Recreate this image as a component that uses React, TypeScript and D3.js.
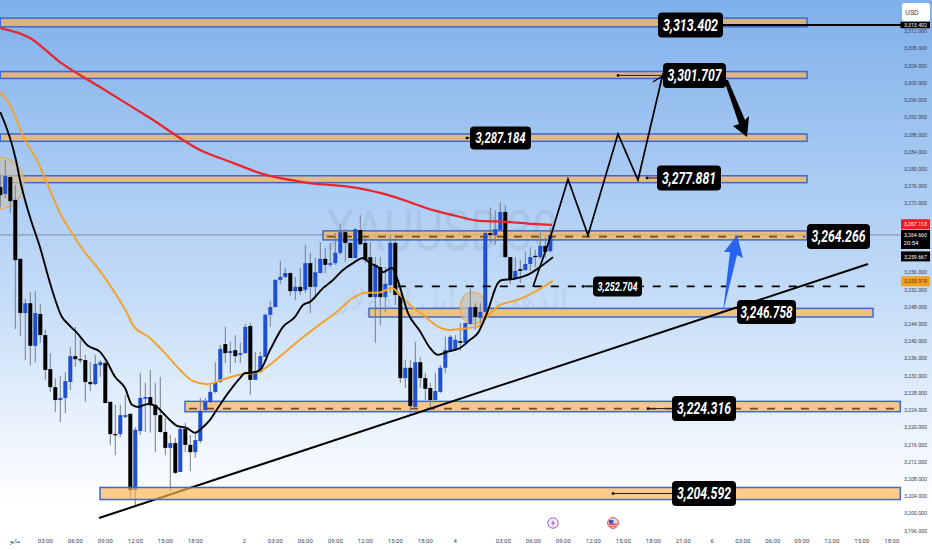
import React from 'react';
import * as d3 from 'd3';

const opens = [3275.8,3274.2,3278.1,3272.8,3259.1,3246.5,3248.8,3238.9,3246.3,3241.4,3233.5,3229.3,3226.3,3226.8,3230.5,3236.5,3235.8,3235.6,3230.5,3230.0,3234.4,3234.9,3225.9,3218.4,3218.4,3222.4,3223.1,3205.4,3219.1,3226.6,3227.0,3225.2,3222.8,3218.9,3215.2,3216.3,3209.6,3219.6,3215.9,3214.2,3216.8,3224.0,3225.9,3228.2,3230.5,3239.3,3237.2,3237.9,3236.8,3237.2,3243.5,3231.0,3232.8,3236.3,3246.1,3247.9,3254.2,3254.9,3255.8,3251.6,3252.6,3251.9,3258.1,3252.6,3255.8,3259.1,3257.7,3258.1,3260.5,3265.3,3262.8,3259.3,3265.8,3262.8,3259.5,3250.2,3257.2,3250.2,3253.0,3262.8,3250.9,3231.4,3233.8,3224.7,3235.1,3231.4,3229.1,3226.3,3228.2,3233.8,3237.9,3237.9,3240.0,3239.6,3244.0,3247.9,3245.4,3246.8,3265.1,3264.6,3265.8,3270.0,3259.5,3254.4,3256.7,3256.5,3257.9,3259.8,3259.5,3262.1,3260.9];
const highs = [3278.6,3282.0,3278.6,3276.2,3259.1,3249.8,3251.4,3251.6,3248.6,3242.6,3237.2,3231.4,3231.9,3232.8,3238.6,3243.3,3240.3,3236.8,3235.1,3236.8,3235.6,3235.6,3225.9,3225.2,3225.2,3227.5,3223.1,3220.0,3232.6,3230.3,3233.3,3230.3,3231.7,3222.1,3218.2,3217.5,3220.3,3221.0,3218.2,3218.7,3226.8,3226.8,3229.8,3235.1,3239.1,3243.3,3239.8,3241.4,3239.6,3244.0,3244.2,3237.5,3237.5,3246.5,3249.3,3254.4,3258.6,3257.0,3256.0,3254.9,3257.0,3262.3,3260.5,3259.3,3263.0,3261.6,3262.8,3265.1,3267.2,3266.0,3263.0,3266.3,3269.3,3264.2,3263.0,3259.5,3259.5,3257.2,3264.6,3264.6,3250.9,3235.6,3235.6,3239.8,3236.3,3232.6,3230.3,3232.6,3234.4,3241.0,3241.4,3241.4,3244.2,3244.2,3252.3,3248.8,3248.8,3265.8,3271.1,3270.4,3272.3,3271.6,3259.5,3259.5,3258.8,3260.9,3261.8,3261.2,3265.3,3264.2,3266.3];
const lows = [3271.1,3273.2,3269.7,3242.8,3241.2,3235.6,3234.4,3235.1,3239.6,3231.0,3228.2,3223.5,3221.2,3223.3,3228.6,3234.0,3234.9,3225.9,3228.4,3229.8,3231.7,3225.6,3215.9,3213.5,3217.7,3222.1,3203.6,3201.9,3218.2,3218.9,3218.7,3214.2,3218.7,3213.5,3205.0,3209.1,3209.6,3214.2,3209.8,3212.9,3216.3,3223.5,3225.6,3227.9,3230.3,3234.9,3232.6,3234.9,3234.9,3237.0,3227.5,3231.0,3232.6,3236.3,3243.3,3247.9,3253.3,3254.6,3250.5,3249.5,3250.7,3251.2,3246.5,3250.0,3255.8,3255.8,3257.2,3257.7,3260.0,3258.4,3259.3,3259.3,3262.3,3258.1,3250.2,3239.6,3243.7,3246.8,3251.2,3248.4,3230.3,3229.1,3222.8,3224.5,3229.1,3226.3,3224.7,3226.3,3227.9,3232.6,3237.7,3237.7,3237.7,3239.6,3243.7,3242.6,3243.0,3246.8,3262.8,3262.3,3265.6,3259.3,3253.3,3254.2,3253.5,3256.3,3256.3,3257.2,3259.1,3259.3,3260.5];
const closes = [3273.9,3278.3,3272.5,3258.8,3246.5,3248.8,3238.9,3246.5,3241.4,3233.3,3229.3,3226.3,3226.8,3230.7,3236.5,3235.8,3235.6,3230.5,3230.0,3234.7,3235.1,3225.6,3218.4,3218.2,3222.8,3222.8,3205.4,3219.4,3226.8,3227.0,3225.2,3222.8,3218.9,3215.2,3216.3,3209.4,3219.6,3215.9,3214.2,3217.0,3223.8,3225.9,3228.2,3230.5,3238.2,3237.2,3237.7,3236.5,3237.2,3243.3,3231.0,3233.0,3236.5,3246.1,3247.9,3254.2,3254.9,3255.8,3251.6,3252.6,3251.6,3258.1,3252.6,3256.0,3259.1,3257.7,3258.1,3260.5,3265.3,3262.8,3259.3,3266.0,3262.5,3258.8,3250.2,3257.7,3250.2,3253.3,3262.8,3250.7,3231.4,3233.8,3224.9,3235.1,3231.4,3228.9,3226.3,3228.4,3233.8,3237.9,3241.0,3240.3,3239.6,3244.2,3247.9,3245.6,3246.8,3265.1,3264.6,3266.0,3270.0,3259.5,3254.4,3256.3,3256.3,3257.9,3259.5,3259.5,3262.1,3260.7,3264.6];

const fastBars = [0,3.14,3.94,5.94,7.94,9.94,12.34,13.34,15.34,17.54,19.94,21.14,22.94,24.94,26.34,27.54,29.54,31.34,32.54,34.34,35.34,37.34,38.94,40.34,41.94,43.54,45.54,47.94,48.94,49.94,51.94,53.94,56.54,58.94,60.54,61.94,64.54,66.54,68.54,70.54,72.54,73.94,75.54,76.54,78.34,79.34,81.54,83.94,85.94,87.54,89.34,91.94,93.94,95.54,97.34,99.54,100.34,102.54,105.34,107.94,110.54];
const fastPrices = [3293.2,3282.0,3277.4,3268.8,3261.8,3253.5,3245.6,3244.2,3241.9,3238.9,3237.5,3235.6,3231.7,3229.1,3225.2,3224.7,3225.4,3224.7,3223.3,3221.2,3220.3,3219.8,3218.7,3219.8,3221.7,3224.5,3227.9,3231.4,3232.6,3232.6,3233.3,3237.9,3243.3,3245.6,3248.4,3249.1,3252.3,3254.2,3256.5,3258.1,3259.3,3258.1,3257.2,3256.0,3257.0,3254.6,3246.5,3242.3,3238.4,3236.8,3237.5,3238.4,3240.3,3241.9,3246.5,3253.5,3254.2,3254.4,3255.3,3257.2,3259.5];
const slowBars = [0,1.94,4.94,7.34,9.94,11.94,13.94,16.54,19.94,22.94,25.34,26.54,29.94,32.94,35.94,38.54,41.34,44.34,47.54,51.54,54.34,56.54,60.34,64.54,67.34,70.54,72.94,75.54,78.34,79.94,81.94,84.54,87.34,89.94,93.34,95.34,97.34,99.94,103.34,106.54,110.54];
const slowPrices = [3297.8,3294.8,3286.7,3282.0,3275.1,3269.7,3265.8,3261.2,3256.3,3251.2,3246.5,3243.7,3240.7,3237.2,3233.3,3230.7,3230.0,3231.0,3232.1,3232.8,3234.9,3237.0,3240.7,3244.4,3246.8,3250.0,3251.2,3251.2,3252.3,3250.7,3248.4,3246.1,3243.5,3242.6,3243.0,3243.3,3245.6,3248.4,3249.5,3251.2,3254.0];
const longBars = [0,5.94,11.94,19.94,29.94,39.94,46.54,51.94,61.94,69.94,75.94,80.54,86.54,91.34,95.94,101.34,106.54,110.34];
const longPrices = [3312.7,3310.4,3304.8,3299.0,3291.8,3284.4,3281.4,3279.0,3276.7,3275.8,3274.4,3272.8,3270.4,3269.0,3267.9,3267.7,3267.2,3267.0];
const pathBars = [106.54,110.14,113.54,117.54,123.54,127.54,132.54];
const pathPrices = [3252.6,3264.6,3277.6,3264.6,3288.1,3277.4,3302.2];
const trendBars = [19.74,173.54];
const trendPrices = [3198.9,3257.9];

const zoneLevels = [3313.402,3301.707,3287.184,3277.881,3264.266,3246.758,3224.316,3204.592];
const zoneHighs = [3315.0,3302.6,3288.1,3278.4,3265.6,3247.6,3226.0,3206.0];
const zoneLows = [3313.0,3301.0,3286.4,3276.8,3263.5,3245.6,3223.6,3203.2];
const zoneStarts = [0,0,0,0,64.54,73.74,36.94,19.94];
const zoneEnds = [161.34,161.34,161.34,161.34,161.34,174.54,180,180];
const dashedZones = [3264.266,3224.316];
const supportLevel = 3252.704;
const currentPrice = 3264.66;
const yTicks = d3.range(3196, 3313, 4).filter((t) => t !== 3264 && t !== 3260);
const timeLabels = ['مايو','03:00','06:00','09:00','12:00','15:00','18:00','2','03:00','06:00','09:00','12:00','15:00','18:00','4','03:00','06:00','09:00','12:00','15:00','18:00','21:00','6','03:00','06:00','09:00','12:00','15:00','18:00'];
const timeBars = [2.94,9,15,21,27,33,39,48.8,55,61,67,73,79,85,91,100.6,106.6,112.6,118.6,124.6,130.6,136.6,142.4,148.5,154.5,160.3,166.3,172.3,178.3];

const W = 932, H = 550;
const x = d3.scaleLinear().domain([0, 110]).range([0.3, 550.3]);
const y = d3.scaleLinear().domain([3308, 3200]).range([48.3, 513.3]);
const fmt = d3.format(',.3f');
const BLUE = '#1f4fd1';
const BLACK = '#000';
const FONT = 'Roboto, "Noto Sans", sans-serif';

const curve = (bars: number[], prices: number[]) =>
  d3.line<number>().x((b) => x(b)).y((_, i) => y(prices[i])).curve(d3.curveMonotoneX)(bars) as string;
const straight = (bars: number[], prices: number[]) =>
  d3.line<number>().x((b) => x(b)).y((_, i) => y(prices[i]))(bars) as string;

const Zone = ({ i }: { i: number }) => (
  <g>
    <rect x={x(zoneStarts[i])} y={y(zoneHighs[i])} width={x(zoneEnds[i]) - x(zoneStarts[i])}
      height={y(zoneLows[i]) - y(zoneHighs[i])} fill="#ffb450" fillOpacity={0.68} stroke="#3e68cc" strokeWidth={1.5} />
    {dashedZones.includes(zoneLevels[i]) && (
      <line x1={x(zoneStarts[i]) + 4} x2={x(zoneEnds[i]) - 2} y1={y(zoneLevels[i])} y2={y(zoneLevels[i])}
        stroke="#6e4f1c" strokeWidth={1.6} strokeDasharray="8 9" />
    )}
  </g>
);

const labelBoxes = [
  { v: 3313.402, x0: 658, w: 65, h: 25, fs: 16.5, tw: 55, dot: null },
  { v: 3301.707, x0: 663, w: 63, h: 25, fs: 16.5, tw: 54, dot: 618 },
  { v: 3287.184, x0: 470, w: 61, h: 23, fs: 15, tw: 50, dot: 467 },
  { v: 3277.881, x0: 657, w: 64, h: 25, fs: 16.5, tw: 54, dot: 647 },
  { v: 3264.266, x0: 807, w: 63, h: 25, fs: 16.5, tw: 54, dot: null },
  { v: 3252.704, x0: 593, w: 49, h: 20, fs: 12.5, tw: 40, dot: 583 },
  { v: 3246.758, x0: 737, w: 59, h: 24, fs: 16, tw: 52, dot: null },
  { v: 3224.316, x0: 672, w: 64, h: 25, fs: 16.5, tw: 54, dot: 648 },
  { v: 3204.592, x0: 672, w: 64, h: 25, fs: 16.5, tw: 54, dot: 613 },
];

const Candles = () => (
  <g>
    {opens.map((o, i) => {
      const c = closes[i];
      const up = c > o;
      const top = y(Math.max(o, c));
      const bot = y(Math.min(o, c));
      return (
        <g key={i}>
          <line x1={x(i)} x2={x(i)} y1={y(highs[i])} y2={y(lows[i])} stroke="#757d8c" strokeWidth={1} />
          <rect x={x(i) - 2} y={top} width={4} height={Math.max(bot - top, 1.2)} fill={up ? BLUE : BLACK} />
        </g>
      );
    })}
  </g>
);

export default function App() {
  return (
    <svg width={W} height={H} viewBox={`0 0 ${W} ${H}`}
      style={{ position: 'fixed', left: 0, top: 0, display: 'block', fontFamily: FONT }}>
      <defs>
        <linearGradient id="bg" x1="0" y1="0" x2="0" y2="1">
          <stop offset="0" stopColor="#7fb0ea" />
          <stop offset="0.3" stopColor="#a6c9f3" />
          <stop offset="0.55" stopColor="#c6ddf8" />
          <stop offset="0.8" stopColor="#eef5fd" />
          <stop offset="0.92" stopColor="#ffffff" />
        </linearGradient>
      </defs>
      <rect width={W} height={H} fill="url(#bg)" />

      {/* watermark */}
      <text x={442} y={250} textAnchor="middle" fontSize={56} fill="#6f86a6" fillOpacity={0.16} textLength={232} lengthAdjust="spacingAndGlyphs">XAUUSD,30</text>
      <text x={452} y={309} textAnchor="middle" fontSize={28} fill="#6f86a6" fillOpacity={0.14} fontFamily="'Noto Sans', sans-serif">الذهب مقابل الدولار</text>

      {/* current price line */}
      <line x1={0} x2={901} y1={y(currentPrice)} y2={y(currentPrice)} stroke="#7e8ea6" strokeWidth={1} />

      {/* horizontal zones behind the candles */}
      {zoneLevels.map((v, i) => (v > 3230 ? <Zone key={v} i={i} /> : null))}

      <ellipse cx={-2} cy={183} rx={26} ry={26} fill="#c9c3b6" fillOpacity={0.72} stroke="#eaa94c" strokeWidth={1.2} />
      <ellipse cx={473} cy={308} rx={13} ry={16} fill="#c9c3b6" fillOpacity={0.72} stroke="#eaa94c" strokeWidth={1.2} />

      <Zone i={6} />
      <Candles />

      <line x1={x(79.5)} x2={868} y1={y(supportLevel)} y2={y(supportLevel)} stroke="#000" strokeWidth={1.6} strokeDasharray="8 9" />

      <path d={curve(longBars, longPrices)} fill="none" stroke="#e8262e" strokeWidth={2.3} />
      <path d={curve(slowBars, slowPrices)} fill="none" stroke="#f2a32f" strokeWidth={2} />
      <path d={curve(fastBars, fastPrices)} fill="none" stroke="#000" strokeWidth={1.9} />

      <path d={straight(trendBars, trendPrices)} fill="none" stroke="#000" strokeWidth={2} />
      <Zone i={7} />

      <path d={straight(pathBars, pathPrices)} fill="none" stroke="#000" strokeWidth={1.7} />
      <line x1={653} y1={82} x2={664} y2={75} stroke="#000" strokeWidth={1.3} />

      {/* level line from the top zone to the price scale */}
      <line x1={723} x2={901} y1={y(3313.402)} y2={y(3313.402)} stroke="#000" strokeWidth={2} />

      {/* forecast arrows */}
      <path d="M724,80 L728,80 L745,120 L749,116 L747,137 L733,126 L739,124 Z" fill="#000" />
      <path d="M723,312 L730,252 L724,252 L737,235 L743,258 L737,255 Z" fill="#2a63f0" />

      {/* level labels */}
      {labelBoxes.map((b) => {
        const cy = y(b.v);
        return (
          <g key={b.v}>
            {b.dot !== null && (
              <g>
                <line x1={b.dot} x2={b.x0} y1={cy} y2={cy} stroke="#222" strokeWidth={1} />
                <rect x={b.dot - 1.2} y={cy - 1.2} width={2.4} height={2.4} fill="#000" />
              </g>
            )}
            <rect x={b.x0} y={cy - b.h / 2} width={b.w} height={b.h} rx={4} fill="#000" />
            <text x={b.x0 + b.w / 2} y={cy + b.fs * 0.35} textAnchor="middle" fill="#fff" fontWeight={700}
              fontStyle="italic" fontSize={b.fs} textLength={b.tw} lengthAdjust="spacingAndGlyphs">{fmt(b.v)}</text>
          </g>
        );
      })}

      {/* price scale */}
      {yTicks.map((t) => (
        <text key={t} x={915.5} y={y(t) + 2.1} textAnchor="middle" fontSize={6} fill="#3a4250"
          textLength={23} lengthAdjust="spacingAndGlyphs">{fmt(t)}</text>
      ))}
      <rect x={902} y={3} width={28} height={18} rx={2.5} fill="#fff" />
      <text x={912} y={14.5} textAnchor="middle" fontSize={7} fill="#3a4250">USD</text>
      <rect x={900.5} y={y(3313.402) - 3.2} width={29.5} height={6.4} fill="#000" />
      <text x={915.5} y={y(3313.402) + 2.1} textAnchor="middle" fontSize={6} fill="#fff" textLength={23} lengthAdjust="spacingAndGlyphs">{fmt(3313.402)}</text>
      <rect x={901} y={y(3267.113) - 5} width={29} height={10} fill="#f01c24" />
      <text x={915.5} y={y(3267.113) + 2.1} textAnchor="middle" fontSize={6} fill="#fff" textLength={23} lengthAdjust="spacingAndGlyphs">{fmt(3267.113)}</text>
      <rect x={901} y={230} width={29} height={19} fill="#000" />
      <text x={915.5} y={237.2} textAnchor="middle" fontSize={6} fill="#fff" textLength={23} lengthAdjust="spacingAndGlyphs">{fmt(currentPrice)}</text>
      <text x={911} y={245.2} textAnchor="middle" fontSize={6} fill="#fff">20:54</text>
      <rect x={901} y={y(3259.667) - 5} width={29} height={10} fill="#000" />
      <text x={915.5} y={y(3259.667) + 2.1} textAnchor="middle" fontSize={6} fill="#fff" textLength={23} lengthAdjust="spacingAndGlyphs">{fmt(3259.667)}</text>
      <rect x={901} y={y(3253.918) - 5} width={29} height={10} rx={1.5} fill="#f5a01f" />
      <text x={915.5} y={y(3253.918) + 2.1} textAnchor="middle" fontSize={6} fill="#5a3a08" textLength={23} lengthAdjust="spacingAndGlyphs">{fmt(3253.918)}</text>

      {/* time axis */}
      {timeLabels.map((t, i) => (
        <text key={i} x={x(timeBars[i])} y={543} textAnchor="middle" fontSize={6} fill="#3a4250">{t}</text>
      ))}

      {/* event markers */}
      <circle cx={553} cy={523} r={5.2} fill="#f6effa" stroke="#a55bc4" strokeWidth={1} />
      <path d="M554,519.5 L551,523.6 L553,523.6 L552,526.6 L555.2,522.4 L553.2,522.4 Z" fill="#a55bc4" />
      <circle cx={613} cy={523} r={5.4} fill="#f7d4d4" stroke="#e5484d" strokeWidth={1} />
      <rect x={609} y={523.5} width={8} height={1.6} fill="#e5484d" />
      <rect x={609} y={520} width={4.5} height={3.5} fill="#2f62d8" />
      <line x1={610} x2={616} y1={526.4} y2={526.4} stroke="#e5484d" strokeWidth={0.9} />
    </svg>
  );
}
